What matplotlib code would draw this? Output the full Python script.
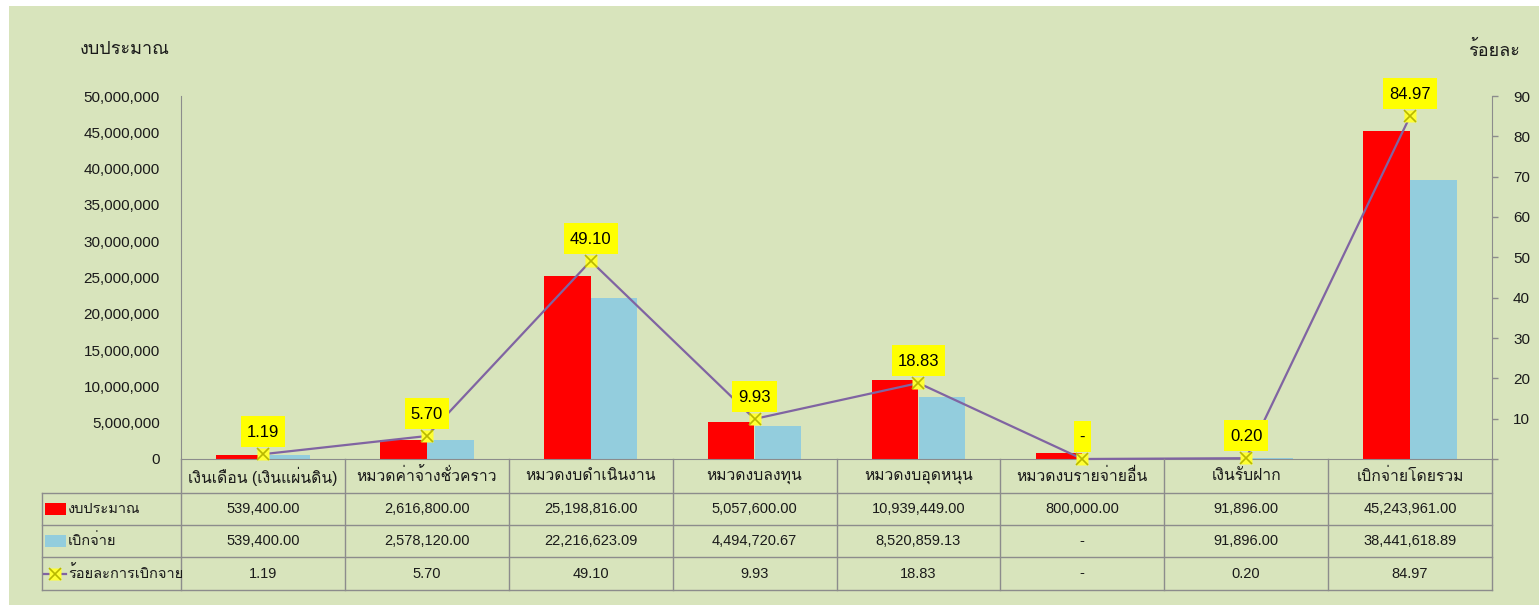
import matplotlib
matplotlib.use('Agg')
import matplotlib.pyplot as plt
from matplotlib import font_manager
from matplotlib.patches import Rectangle
from matplotlib.lines import Line2D
from matplotlib.ticker import FuncFormatter, FixedLocator
import matplotlib.transforms as mtrans

# ---------------- data ----------------
categories = ['เงินเดือน (เงินแผ่นดิน)', 'หมวดค่าจ้างชั่วคราว', 'หมวดงบดำเนินงาน', 'หมวดงบลงทุน',
              'หมวดงบอุดหนุน', 'หมวดงบรายจ่ายอื่น', 'เงินรับฝาก', 'เบิกจ่ายโดยรวม']
budget = [539400.00, 2616800.00, 25198816.00, 5057600.00, 10939449.00, 800000.00, 91896.00, 45243961.00]
spent = [539400.00, 2578120.00, 22216623.09, 4494720.67, 8520859.13, 0.0, 91896.00, 38441618.89]
percent = [1.19, 5.70, 49.10, 9.93, 18.83, 0.0, 0.20, 84.97]
budget_text = ['539,400.00', '2,616,800.00', '25,198,816.00', '5,057,600.00', '10,939,449.00',
               '800,000.00', '91,896.00', '45,243,961.00']
spent_text = ['539,400.00', '2,578,120.00', '22,216,623.09', '4,494,720.67', '8,520,859.13',
              '-', '91,896.00', '38,441,618.89']
percent_text = ['1.19', '5.70', '49.10', '9.93', '18.83', '-', '0.20', '84.97']
series_names = ['งบประมาณ', 'เบิกจ่าย', 'ร้อยละการเบิกจาย']
left_title = 'งบประมาณ'
right_title = 'ร้อยละ'
left_ticks = [0, 5000000, 10000000, 15000000, 20000000, 25000000, 30000000, 35000000, 40000000, 45000000, 50000000]
right_ticks = [0, 10, 20, 30, 40, 50, 60, 70, 80, 90]

# ---------------- fonts ----------------
def find_thai_font():
    try:
        from fontTools.ttLib import TTFont
    except Exception:
        return None
    need = 'งบประมาณ้ื่'
    for f in font_manager.fontManager.ttflist:
        try:
            tt = TTFont(f.fname, fontNumber=0, lazy=True)
            cmap = tt.getBestCmap()
            if cmap and all(ord(c) in cmap for c in need):
                return f.name
        except Exception:
            continue
    return None

thai = find_thai_font()
LATIN = 'Liberation Sans'
fam = [LATIN] + ([thai] if thai else []) + ['DejaVu Sans']
plt.rcParams['font.family'] = fam

W, H = 1539, 605
BG = '#D8E4BC'
RED = '#FF0000'
BLUE = '#93CDDD'
PURPLE = '#8064A2'
GRID = '#8C8C8C'
TXT = '#1A1A1A'
YEL = '#FFFF00'

fig = plt.figure(figsize=(W / 100, H / 100), dpi=100)
fig.patch.set_facecolor('white')
fig.patches.append(Rectangle((9 / W, 0), 1 - 9 / W, 1 - 6 / H, transform=fig.transFigure,
                             facecolor=BG, edgecolor='none', zorder=-10))

def fx(x):
    return x / W

def fy(y):
    return 1 - y / H

PX = 72 / 100  # points per pixel

ax_l, ax_r, ax_t, ax_b = 181, 1492, 96, 459
ax = fig.add_axes([fx(ax_l), fy(ax_b), (ax_r - ax_l) / W, (ax_b - ax_t) / H])
ax.set_facecolor('none')
n = len(categories)
xs = list(range(n))
bw = 0.285
off = 0.143
ax.bar([x - off for x in xs], budget, width=bw, color=RED, zorder=2)
ax.bar([x + off for x in xs], spent, width=bw, color=BLUE, zorder=2)
ax.set_xlim(-0.5, n - 0.5)
ax.set_ylim(0, 50000000)
ax.yaxis.set_major_locator(FixedLocator(left_ticks))
ax.yaxis.set_major_formatter(FuncFormatter(lambda v, p: f'{int(v):,}'))
ax.tick_params(axis='y', length=0, pad=21 * PX, labelsize=11, labelcolor=TXT)
ax.set_xticks([])
for s in ['top', 'right']:
    ax.spines[s].set_visible(False)
ax.spines['left'].set_color(GRID)
ax.spines['bottom'].set_color(GRID)

ax2 = ax.twinx()
ax2.set_ylim(0, 90)
ax2.yaxis.set_major_locator(FixedLocator(right_ticks))
ax2.yaxis.set_major_formatter(FuncFormatter(lambda v, p: '' if v == 0 else f'{int(v)}'))
ax2.tick_params(axis='y', length=6 * PX, width=1, color=GRID, pad=15 * PX, labelsize=11, labelcolor=TXT)
for s in ['top', 'left', 'bottom']:
    ax2.spines[s].set_visible(False)
ax2.spines['right'].set_color(GRID)
ax2.plot(xs, percent, color=PURPLE, lw=1.6, zorder=3, clip_on=False)
ax2.plot(xs, percent, ls='none', marker='s', ms=8, mfc='#FFFF33', mec='none', zorder=4, clip_on=False)
ax2.plot(xs, percent, ls='none', marker='x', ms=8, mew=1.2, color='#B8B800', zorder=5, clip_on=False)
labels = []
for x, v, t in zip(xs, percent, percent_text):
    a = ax2.annotate(t, (x, v), xytext=(0, 17), textcoords='offset pixels', ha='center', va='baseline',
                     fontsize=12, color='black', zorder=7, annotation_clip=False)
    a.set_clip_on(False)
    labels.append((a, x, v))

# titles
fig.text(fx(80), fy(50), left_title, ha='left', va='center', fontsize=13, color=TXT)
fig.text(fx(1520), fy(50), right_title, ha='right', va='center', fontsize=13, color=TXT)

# ---------------- data table ----------------
bt = mtrans.blended_transform_factory(ax.transData, fig.transFigure)
row_y = [459, 493, 525, 557, 590]
tab_left = 42
for y in row_y[1:]:
    fig.add_artist(Line2D([fx(tab_left), fx(ax_r)], [fy(y), fy(y)], transform=fig.transFigure,
                          color=GRID, lw=1))
fig.add_artist(Line2D([fx(tab_left), fx(tab_left)], [fy(row_y[1]), fy(row_y[-1])],
                      transform=fig.transFigure, color=GRID, lw=1))
for k in range(n + 1):
    fig.add_artist(Line2D([k - 0.5, k - 0.5], [fy(row_y[0]), fy(row_y[-1])], transform=bt,
                          color=GRID, lw=1))

def mid(i):
    return fy((row_y[i] + row_y[i + 1]) / 2)

TFS = 10.5
for k in range(n):
    fig.text(k, mid(0), categories[k], transform=bt, ha='center', va='center', fontsize=11.3, color=TXT)
    fig.text(k, mid(1), budget_text[k], transform=bt, ha='center', va='center', fontsize=TFS, color=TXT)
    fig.text(k, mid(2), spent_text[k], transform=bt, ha='center', va='center', fontsize=TFS, color=TXT)
    fig.text(k, mid(3), percent_text[k], transform=bt, ha='center', va='center', fontsize=TFS, color=TXT)

# legend keys in table
fig.patches.append(Rectangle((fx(45), fy(515)), 21 / W, 12 / H, transform=fig.transFigure,
                             facecolor=RED, edgecolor='none'))
fig.patches.append(Rectangle((fx(45), fy(547)), 21 / W, 12 / H, transform=fig.transFigure,
                             facecolor=BLUE, edgecolor='none'))
fig.add_artist(Line2D([fx(44), fx(66)], [fy(574), fy(574)], transform=fig.transFigure,
                      color=PURPLE, lw=1.6))
fig.add_artist(Line2D([fx(55)], [fy(574)], transform=fig.transFigure, ls='none', marker='s', ms=8,
                      mfc='#FFFF33', mec='none'))
fig.add_artist(Line2D([fx(55)], [fy(574)], transform=fig.transFigure, ls='none', marker='x', ms=8,
                      mew=1.2, color='#B8B800'))
for i, name in enumerate(series_names):
    fig.text(fx(68), mid(i + 1), name, ha='left', va='center', fontsize=TFS, color=TXT)

# yellow label boxes sized from the rendered text
fig.canvas.draw()
for a, x, v in labels:
    bb = a.get_window_extent()
    mx, my = ax2.transData.transform((x, v))
    w = (bb.x1 - bb.x0) + 12
    ax2.add_artist(Rectangle((mx - w / 2, my + 7), w, 31, transform=mtrans.IdentityTransform(),
                             facecolor=YEL, edgecolor='none', zorder=6, clip_on=False))

fig.savefig('out.png', dpi=100, facecolor=fig.get_facecolor())
